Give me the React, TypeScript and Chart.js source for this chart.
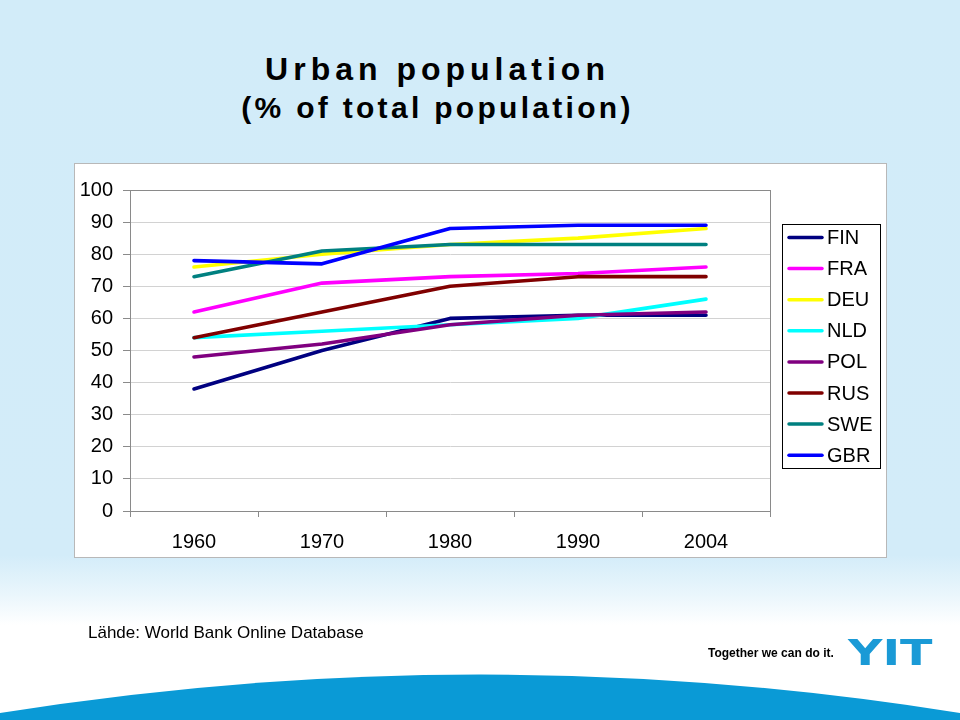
import { useEffect, useRef } from "react";
import { Chart, registerables } from "chart.js";

Chart.register(...registerables);

// ---- data ----
const years = ["1960", "1970", "1980", "1990", "2004"];
const FIN = [38, 50, 60, 61, 61];
const FRA = [62, 71, 73, 74, 76];
const DEU = [76, 80, 83, 85, 88];
const NLD = [54, 56, 58, 60, 66];
const POL = [48, 52, 58, 61, 62];
const RUS = [54, 62, 70, 73, 73];
const SWE = [73, 81, 83, 83, 83];
const GBR = [78, 77, 88, 89, 89];
const seriesNames = ["FIN", "FRA", "DEU", "NLD", "POL", "RUS", "SWE", "GBR"];
const seriesValues = [FIN, FRA, DEU, NLD, POL, RUS, SWE, GBR];
const seriesColors = ["#000080", "#FF00FF", "#FFFF00", "#00FFFF", "#800080", "#800000", "#008080", "#0000FF"];
const yMin = 0;
const yMax = 100;
const yStep = 10;

const titleText = "Urban population";
const subtitleText = "(% of total population)";
const sourceText = "Lähde: World Bank Online Database";

const FONT = "'Liberation Sans', Arial, sans-serif";

const frameAndLegend = {
  id: "frameAndLegend",
  afterDatasetsDraw(chart: any) {
    const { ctx, chartArea } = chart;
    ctx.save();
    // plot frame
    ctx.strokeStyle = "#8a8a8a";
    ctx.lineWidth = 1;
    ctx.strokeRect(
      Math.round(chartArea.left) + 0.5,
      Math.round(chartArea.top) + 0.5,
      Math.round(chartArea.right - chartArea.left),
      Math.round(chartArea.bottom - chartArea.top)
    );
    // legend
    const lx = 782;
    const ly = 224;
    const lw = 98;
    const lh = 244;
    ctx.fillStyle = "#ffffff";
    ctx.fillRect(lx, ly, lw, lh);
    ctx.strokeStyle = "#000000";
    ctx.strokeRect(lx + 0.5, ly + 0.5, lw, lh);
    ctx.font = `20px ${FONT}`;
    ctx.textBaseline = "middle";
    ctx.textAlign = "left";
    chart.data.datasets.forEach((ds: any, i: number) => {
      const y = ly + 13.5 + i * 31.1;
      ctx.strokeStyle = ds.borderColor;
      ctx.lineWidth = 3.5;
      ctx.lineCap = "round";
      ctx.beginPath();
      ctx.moveTo(789, y);
      ctx.lineTo(822, y);
      ctx.stroke();
      ctx.fillStyle = "#000000";
      ctx.fillText(ds.label, 827, y + 1);
    });
    ctx.restore();
  },
};

function ChartCanvas() {
  const ref = useRef<HTMLCanvasElement | null>(null);
  useEffect(() => {
    if (!ref.current) return;
    const n = seriesNames.length;
    const chart = new Chart(ref.current, {
      type: "line",
      data: {
        labels: years,
        datasets: seriesNames.map((name, i) => ({
          label: name,
          data: seriesValues[i],
          borderColor: seriesColors[i],
          backgroundColor: seriesColors[i],
          borderWidth: 3.6,
          borderCapStyle: "round" as const,
          borderJoinStyle: "round" as const,
          pointRadius: 0,
          tension: 0,
          order: n - i,
        })),
      },
      options: {
        responsive: false,
        animation: false,
        layout: { padding: { left: 74, right: 190, top: 190, bottom: 163 } },
        plugins: {
          legend: { display: false },
          tooltip: { enabled: false },
          title: { display: false },
        },
        scales: {
          x: {
            type: "category",
            offset: true,
            grid: {
              offset: true,
              drawOnChartArea: false,
              drawTicks: true,
              tickLength: 6,
              tickColor: "#8a8a8a",
            },
            border: { display: true, color: "#8a8a8a" },
            ticks: {
              color: "#000000",
              padding: 13,
              maxRotation: 0,
              autoSkip: false,
              font: { family: FONT, size: 20 },
            },
            afterFit: (s: any) => {
              s.height = 46;
            },
          },
          y: {
            min: yMin,
            max: yMax,
            grid: {
              color: "#d2d2d2",
              tickColor: "#8a8a8a",
              tickLength: 7,
              drawTicks: true,
            },
            border: { display: true, color: "#8a8a8a" },
            ticks: {
              stepSize: yStep,
              color: "#000000",
              padding: 10,
              font: { family: FONT, size: 20 },
            },
            afterFit: (s: any) => {
              s.width = 56;
            },
          },
        },
      },
      plugins: [frameAndLegend],
    });
    return () => chart.destroy();
  }, []);
  return (
    <canvas
      ref={ref}
      width={960}
      height={720}
      style={{ position: "absolute", left: 0, top: 0, width: 960, height: 720 }}
    />
  );
}

export default function App() {
  return (
    <div
      style={{
        position: "fixed",
        left: 0,
        top: 0,
        width: 960,
        height: 720,
        overflow: "hidden",
        background:
          "linear-gradient(to bottom, #d2ecf9 0px, #d3ecf9 555px, #eaf6fc 595px, #ffffff 625px, #ffffff 720px)",
        fontFamily: FONT,
      }}
    >
      <svg
        width={960}
        height={720}
        style={{ position: "absolute", left: 0, top: 0 }}
      >
        <path d="M0,713 Q480,636 960,713 L960,720 L0,720 Z" fill="#0a9ad6" />
      </svg>
      <div
        style={{
          position: "absolute",
          left: 74,
          top: 163,
          width: 811,
          height: 393,
          background: "#ffffff",
          border: "1px solid #b8b8b8",
        }}
      />
      <div
        style={{
          position: "absolute",
          left: 0,
          width: 875,
          top: 53,
          textAlign: "center",
          fontSize: 32,
          lineHeight: "32px",
          fontWeight: "bold",
          letterSpacing: 5,
          color: "#000",
          whiteSpace: "nowrap",
        }}
      >
        {titleText}
      </div>
      <div
        style={{
          position: "absolute",
          left: 0,
          width: 875,
          top: 93,
          textAlign: "center",
          fontSize: 30,
          lineHeight: "30px",
          fontWeight: "bold",
          letterSpacing: 3.3,
          color: "#000",
          whiteSpace: "nowrap",
        }}
      >
        {subtitleText}
      </div>
      <ChartCanvas />
      <div
        style={{
          position: "absolute",
          left: 88,
          top: 623,
          fontSize: 17,
          lineHeight: "20px",
          color: "#000",
          whiteSpace: "nowrap",
        }}
      >
        {sourceText}
      </div>
      <div
        style={{
          position: "absolute",
          left: 708,
          top: 645,
          fontSize: 12,
          lineHeight: "16px",
          fontWeight: 900,
          color: "#000",
          whiteSpace: "nowrap",
        }}
      >
        Together we can do it.
      </div>
      <div
        style={{
          position: "absolute",
          left: 848,
          top: 635,
          fontSize: 36,
          lineHeight: "36px",
          fontWeight: "bold",
          fontFamily: "'DejaVu Sans', sans-serif",
          color: "#1a9ad6",
          whiteSpace: "nowrap",
          transform: "scaleX(1.32)",
          transformOrigin: "left top",
        }}
      >
        YIT
      </div>
    </div>
  );
}
